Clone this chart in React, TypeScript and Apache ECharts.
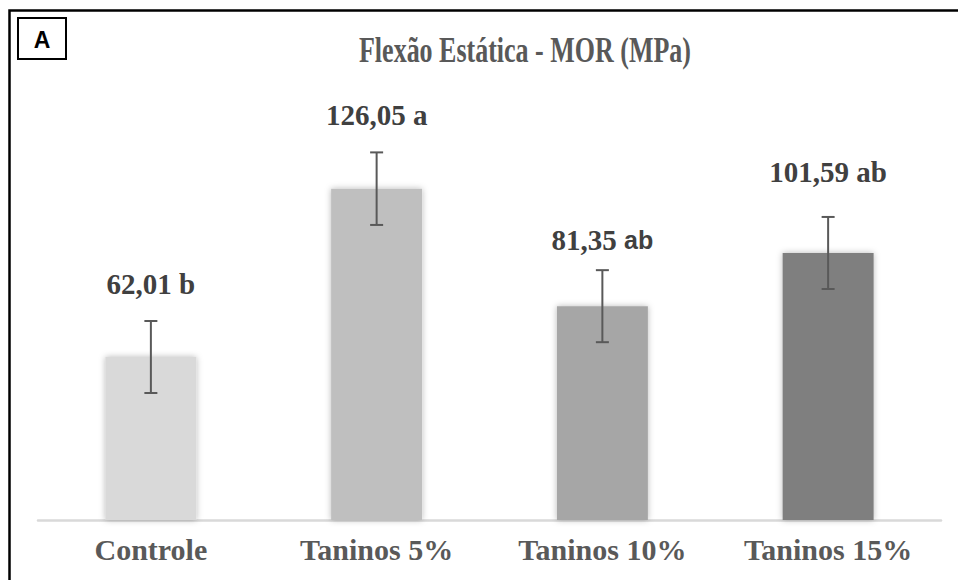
import React, { useEffect, useRef } from 'react';
import * as echarts from 'echarts';

const categories = ['Controle', 'Taninos 5%', 'Taninos 10%', 'Taninos 15%'];
const meanValues = [62.01, 126.05, 81.35, 101.59];
const errorValues = [13.7, 13.8, 13.7, 13.7];
const groupLetters = ['b', 'a', 'ab', 'ab'];
const barColors = ['#d9d9d9', '#bfbfbf', '#a6a6a6', '#7f7f7f'];
const titleText = 'Flexão Estática - MOR (MPa)';
const panelLetter = 'A';

const SERIF = 'Liberation Serif';
const SANS = 'Liberation Sans';

export default function App() {
  const ref = useRef<HTMLDivElement>(null);

  useEffect(() => {
    if (!ref.current) return;
    const chart = echarts.init(ref.current, null, { renderer: 'svg' });

    const labelOffsets = [0, 0, 7, -7];
    const sansLetters = [false, false, true, false];

    const barData = meanValues.map((v, i) => {
      const num = v.toFixed(2).replace('.', ',');
      return {
        value: v,
        itemStyle: {
          color: barColors[i],
          shadowBlur: 6,
          shadowColor: 'rgba(0,0,0,0.28)',
        },
        label: {
          offset: [0, labelOffsets[i]],
          formatter: () =>
            sansLetters[i]
              ? `{n|${num}\u00a0}{s|${groupLetters[i]}}`
              : `{n|${num}\u00a0${groupLetters[i]}}`,
        },
      };
    });

    const errData = meanValues.map((v, i) => [i, v - errorValues[i], v + errorValues[i]]);

    chart.setOption({
      animation: false,
      backgroundColor: '#ffffff',
      grid: { left: 38, right: 17, top: 152, bottom: 60, containLabel: false },
      xAxis: {
        type: 'category',
        data: categories,
        axisLine: { lineStyle: { color: '#d9d9d9', width: 2.5 } },
        axisTick: { show: false },
        axisLabel: {
          color: '#595959',
          fontFamily: 'serif',
          fontWeight: 'bold',
          fontSize: 30,
          margin: 14,
        },
      },
      yAxis: {
        type: 'value',
        min: 0,
        max: 140,
        show: false,
        splitLine: { show: false },
      },
      graphic: [
        {
          type: 'rect',
          shape: { x: 9.5, y: 10.5, width: 990, height: 600 },
          style: { fill: 'none', stroke: '#000000', lineWidth: 2.5 },
          silent: true,
          z: 100,
        },
        {
          type: 'rect',
          shape: { x: 18, y: 18, width: 48, height: 41 },
          style: { fill: '#ffffff', stroke: '#000000', lineWidth: 2 },
          z: 100,
        },
        {
          type: 'text',
          x: 42,
          y: 40,
          z: 101,
          style: {
            text: panelLetter,
            fontFamily: SANS,
            fontWeight: 'bold',
            fontSize: 23,
            fill: '#000000',
            align: 'center',
            verticalAlign: 'middle',
            textAlign: 'center',
            textVerticalAlign: 'middle',
          },
        },
        {
          type: 'text',
          x: 525,
          y: 50,
          scaleY: 1.35,
          z: 100,
          style: {
            text: titleText,
            fontFamily: SERIF,
            fontWeight: 'bold',
            fontSize: 26,
            fill: '#595959',
            align: 'center',
            verticalAlign: 'middle',
            textAlign: 'center',
            textVerticalAlign: 'middle',
          },
        },
      ],
      series: [
        {
          type: 'bar',
          data: barData,
          barWidth: 91,
          label: {
            show: true,
            position: 'top',
            distance: 59,
            rich: {
              n: { fontFamily: 'Times New Roman', fontWeight: 'bold', fontSize: 29, color: '#404040' },
              s: { fontFamily: SANS, fontWeight: 'bold', fontSize: 25, color: '#404040' },
            },
          },
          z: 2,
        },
        {
          type: 'custom',
          data: errData,
          z: 5,
          renderItem: (params: any, api: any) => {
            const i = api.value(0);
            const lo = api.coord([i, api.value(1)]);
            const hi = api.coord([i, api.value(2)]);
            const cap = 6.5;
            const style = { stroke: '#595959', lineWidth: 2 };
            return {
              type: 'group',
              children: [
                { type: 'line', shape: { x1: lo[0], y1: lo[1], x2: hi[0], y2: hi[1] }, style },
                { type: 'line', shape: { x1: hi[0] - cap, y1: hi[1], x2: hi[0] + cap, y2: hi[1] }, style },
                { type: 'line', shape: { x1: lo[0] - cap, y1: lo[1], x2: lo[0] + cap, y2: lo[1] }, style },
              ],
            };
          },
        },
      ],
    });

    return () => chart.dispose();
  }, []);

  return (
    <div
      ref={ref}
      style={{ position: 'fixed', left: 0, top: 0, width: 958, height: 580, background: '#fff' }}
    />
  );
}
